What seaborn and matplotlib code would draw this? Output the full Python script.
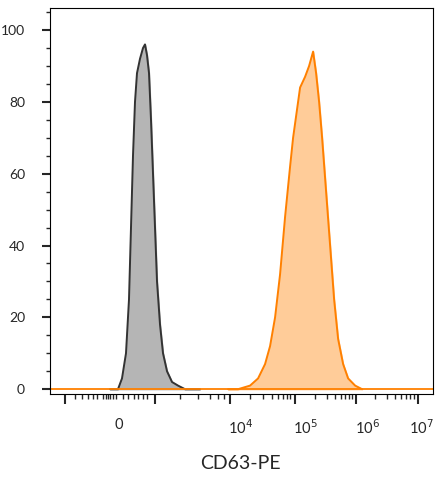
import matplotlib
matplotlib.use('Agg')
from matplotlib import pyplot as plt
import numpy as np
import seaborn as sns

# x in display-channel units of the biexponential axis
gray_x = [110, 118, 122, 126, 129, 131, 133, 135, 137, 140, 143, 145, 147, 149, 151, 153,
          155, 157, 160, 163, 167, 172, 178, 185, 200]
gray_y = [0, 0, 3, 10, 25, 45, 65, 80, 88, 92, 95, 96, 93, 88, 75, 60,
          45, 30, 18, 10, 5, 2, 1, 0, 0]
orange_x = [228, 238, 250, 258, 265, 270, 275, 280, 285, 290, 293, 297, 300, 305, 309, 313,
            316, 319, 322, 326, 330, 334, 338, 343, 348, 355, 362]
orange_y = [0, 0, 1, 3, 7, 12, 20, 32, 48, 62, 70, 78, 84, 87, 90, 94,
            88, 80, 70, 55, 40, 25, 14, 7, 3, 1, 0]

major_ticks = [65, 155, 230, 295, 356, 418]
minor_ticks = [75, 82, 88, 93, 97, 103, 106, 108, 110, 113, 116, 123, 128, 134, 138, 143, 147,
               180, 198, 210, 218, 224, 250, 263, 272, 278, 283, 287, 290, 315, 327, 335, 341,
               345, 349, 352, 375, 387, 395, 401, 406, 410, 414]
tick_labels = [(119, '0'), (240, '10$^4$'), (305, '10$^5$'), (367, '10$^6$'), (421, '10$^7$')]

sns.set_style('white')
plt.rcParams['font.family'] = ['Lato', 'DejaVu Sans']

fig = plt.figure(figsize=(4.42, 4.79), dpi=100)
ax = fig.add_axes([0.113, 0.177, 0.867, 0.806])

ax.fill_between(gray_x, gray_y, color='#b5b5b5')
ax.plot(gray_x, gray_y, color='#333333', lw=1.4)
ax.fill_between(orange_x, orange_y, color='#ffcc99')
ax.plot(orange_x, orange_y, color='#ff8000', lw=1.4)
ax.axhline(0, color='#ff8000', lw=1.3)

ax.set_xlim(50, 433)
ax.set_ylim(-1.4, 106.1)
for s in ax.spines.values():
  s.set_color('black')
  s.set_linewidth(0.8)

ax.set_yticks([0, 20, 40, 60, 80, 100])
ax.set_yticks(np.arange(0, 106, 5), minor=True)
ax.tick_params(axis='y', which='major', length=6, width=1.5, labelsize=10, pad=12,
               direction='out', left=True)
ax.tick_params(axis='y', which='minor', length=3, width=1, left=True, direction='out')

ax.set_xticks(major_ticks)
ax.set_xticks(minor_ticks, minor=True)
ax.set_xticklabels([])
ax.tick_params(axis='x', which='major', length=7, width=1.5, bottom=True, direction='out')
ax.tick_params(axis='x', which='minor', length=3.5, width=1, bottom=True, direction='out')

for x, lab in tick_labels:
  ax.text(x, -8, lab, ha='center', va='top', fontsize=10.5)

fig.text(0.545, 0.015, 'CD63-PE', ha='center', va='bottom', fontsize=14)
fig.savefig('out.png', dpi=100)
